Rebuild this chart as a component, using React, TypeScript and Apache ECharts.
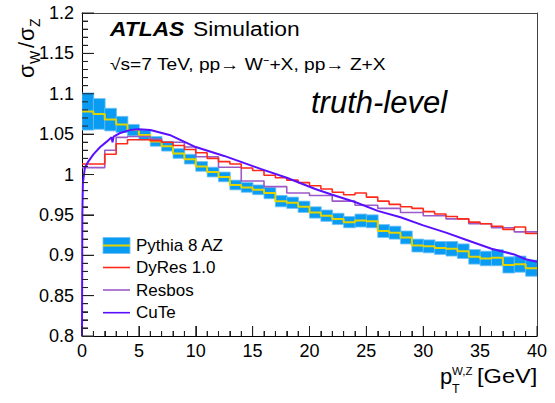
import React, { useEffect, useRef } from 'react';
import * as echarts from 'echarts';

// Bin edges (GeV)
const binLow = [0, 1, 2, 3, 4, 5, 6, 7, 8, 9, 10, 11, 12, 13, 14, 15, 16, 17, 18, 19,
  20, 21, 22, 23, 24, 25, 26, 27, 28, 29, 30, 31, 32, 33, 34, 35, 36, 37, 38, 39];
const binHigh = [1, 2, 3, 4, 5, 6, 7, 8, 9, 10, 11, 12, 13, 14, 15, 16, 17, 18, 19, 20,
  21, 22, 23, 24, 25, 26, 27, 28, 29, 30, 31, 32, 33, 34, 35, 36, 37, 38, 39, 40];

// Pythia 8 AZ (central value and uncertainty half-width)
const pythiaCenter = [1.078, 1.075, 1.068, 1.062, 1.055, 1.049, 1.041, 1.035, 1.026, 1.019,
  1.010, 1.003, 0.997, 0.987, 0.984, 0.981, 0.977, 0.967, 0.965, 0.960,
  0.953, 0.949, 0.945, 0.941, 0.943, 0.942, 0.930, 0.928, 0.922, 0.912,
  0.911, 0.909, 0.908, 0.905, 0.898, 0.896, 0.897, 0.888, 0.889, 0.884];
const pythiaErr = [0.023, 0.019, 0.014, 0.010, 0.007, 0.006, 0.006, 0.006, 0.006, 0.006,
  0.006, 0.006, 0.006, 0.006, 0.006, 0.006, 0.007, 0.007, 0.007, 0.007,
  0.007, 0.007, 0.007, 0.007, 0.008, 0.008, 0.008, 0.008, 0.008, 0.008,
  0.008, 0.008, 0.009, 0.009, 0.009, 0.009, 0.010, 0.010, 0.010, 0.010];

// DyRes 1.0
const dyres = [1.013, 1.013, 1.025, 1.038, 1.043, 1.043, 1.042, 1.040, 1.036, 1.031,
  1.027, 1.020, 1.016, 1.013, 1.008, 1.005, 0.999, 0.996, 0.993, 0.990,
  0.986, 0.982, 0.978, 0.975, 0.977, 0.972, 0.967, 0.963, 0.960, 0.958,
  0.954, 0.951, 0.948, 0.945, 0.941, 0.939, 0.936, 0.932, 0.935, 0.927];

// Resbos
const resbos = [1.0085, 1.0085, 1.030, 1.046, 1.047, 1.047, 1.044, 1.040, 1.040, 1.034,
  1.022, 1.022, 1.009, 1.009, 0.992, 0.992, 0.985, 0.985, 0.977, 0.977,
  0.974, 0.974, 0.967, 0.967, 0.962, 0.962, 0.958, 0.958, 0.953, 0.953,
  0.949, 0.949, 0.945, 0.945, 0.939, 0.939, 0.934, 0.934, 0.929, 0.929];

// CuTe (curve)
const cutePt = [0, 0.03, 0.08, 0.25, 0.55, 1.0, 1.6, 2.2, 2.6, 2.68, 2.78, 3.3, 4.2, 5.0, 6.0, 7.7,
  10, 12.5, 15.7, 18, 20.5, 22, 24, 26, 28, 30, 32, 34, 36, 38, 39, 40];
const cuteVal = [0.8, 0.95, 0.99, 1.008, 1.016, 1.025, 1.034, 1.041, 1.046, 1.040, 1.047, 1.051, 1.055, 1.056, 1.055, 1.049,
  1.034, 1.023, 1.007, 0.996, 0.982, 0.975, 0.966, 0.955, 0.947, 0.937, 0.928, 0.918, 0.908, 0.901, 0.895, 0.892];

const legendNames = ['Pythia 8 AZ', 'DyRes 1.0', 'Resbos', 'CuTe'];

// Axis ranges and tick steps
const X_MIN = 0, X_MAX = 40, X_MAJOR = 5, X_MINOR = 1;
const Y_MIN = 0.8, Y_MAX = 1.2, Y_MAJOR = 0.05, Y_MINOR = 0.01;

const FF = "'Liberation Sans', Arial, Helvetica, sans-serif";
const C_BAND = '#0a9cf2';
const C_YEL = '#e2d400';
const C_RED = '#ff2a1a';
const C_PUR = '#9b5ac8';
const C_CUTE = '#5a10ff';
const C_TICK = '#222';

function stepData(vals: number[]) {
  const d: number[][] = binLow.map((x, i) => [x, vals[i]]);
  d.push([binHigh[binHigh.length - 1], vals[vals.length - 1]]);
  return d;
}

export default function App() {
  const ref = useRef<HTMLDivElement>(null);
  useEffect(() => {
    const chart = echarts.init(ref.current as HTMLDivElement, null, { renderer: 'svg' });
    const bandData = binLow.map((x, i) => [x, binHigh[i], pythiaCenter[i] - pythiaErr[i], pythiaCenter[i] + pythiaErr[i]]);
    const cuteData = cutePt.map((x, i) => [x, cuteVal[i]]);

    // tick positions along the axes (minor every step, major every 5th)
    const nX = Math.round((X_MAX - X_MIN) / X_MINOR);
    const xTicks = Array.from({ length: nX + 1 }, (_, i) => [X_MIN + i * X_MINOR, Y_MIN, i % Math.round(X_MAJOR / X_MINOR) === 0 ? 1 : 0]);
    const nY = Math.round((Y_MAX - Y_MIN) / Y_MINOR);
    const yTicks = Array.from({ length: nY + 1 }, (_, i) => [X_MIN, +(Y_MIN + i * Y_MINOR).toFixed(3), i % Math.round(Y_MAJOR / Y_MINOR) === 0 ? 1 : 0]);

    const txt = (text: string, x: number, y: number, size: number, extra: any = {}, el: any = {}) => ({
      type: 'text', x, y, originX: 0, originY: 0, ...el,
      style: { text, fill: '#000', fontSize: size, fontFamily: FF, align: 'left', verticalAlign: 'middle', ...extra },
    });

    const legendY = [245.5, 267.5, 290, 312.7];
    const frameAxisX = {
      type: 'value', min: X_MIN, max: X_MAX, position: 'top',
      axisLine: { show: true, onZero: false, lineStyle: { color: '#444', width: 1 } },
      axisTick: { show: false }, axisLabel: { show: false }, splitLine: { show: false },
    };
    const frameAxisY = {
      type: 'value', min: Y_MIN, max: Y_MAX, position: 'right',
      axisLine: { show: true, onZero: false, lineStyle: { color: '#444', width: 1 } },
      axisTick: { show: false }, axisLabel: { show: false }, splitLine: { show: false },
    };

    chart.setOption({
      animation: false,
      backgroundColor: '#fff',
      grid: { left: 82, right: 18, top: 13, bottom: 67 },
      xAxis: [{
        type: 'value', min: X_MIN, max: X_MAX, interval: X_MAJOR, position: 'bottom',
        axisLine: { show: true, onZero: false, lineStyle: { color: '#000', width: 1 } },
        axisTick: { show: true, inside: true, length: 10, lineStyle: { color: C_TICK, width: 1 } },
        minorTick: { show: true, splitNumber: 5, length: 5, lineStyle: { color: C_TICK, width: 1 } },
        splitLine: { show: false },
        axisLabel: { fontSize: 18, color: '#000', fontFamily: FF, margin: 6 },
      }, frameAxisX],
      yAxis: [{
        type: 'value', min: Y_MIN, max: Y_MAX, interval: Y_MAJOR, position: 'left',
        axisLine: { show: true, onZero: false, lineStyle: { color: '#000', width: 1 } },
        axisTick: { show: true, inside: true, length: 12, lineStyle: { color: C_TICK, width: 1 } },
        minorTick: { show: true, splitNumber: 5, length: 6, lineStyle: { color: C_TICK, width: 1 } },
        splitLine: { show: false },
        axisLabel: {
          fontSize: 18, color: '#000', fontFamily: FF, margin: 8,
          formatter: (v: number) => String(parseFloat(v.toFixed(2))),
        },
      }, frameAxisY],
      series: [
        {
          type: 'custom', name: legendNames[0] + ' band', data: bandData,
          encode: { x: [0, 1], y: [2, 3] }, clip: true, z: 1,
          renderItem: (params: any, api: any) => {
            const a = api.coord([api.value(0), api.value(3)]);
            const b = api.coord([api.value(1), api.value(2)]);
            return {
              type: 'rect',
              shape: { x: a[0], y: a[1], width: b[0] - a[0] + 0.4, height: b[1] - a[1] },
              style: { fill: C_BAND, stroke: '#6cc0f6', lineWidth: 0.8 },
            };
          },
        },
        { type: 'line', name: legendNames[0], data: stepData(pythiaCenter), step: 'end', symbol: 'none', z: 3, lineStyle: { color: C_YEL, width: 2 } },
        { type: 'line', name: legendNames[2], data: stepData(resbos), step: 'end', symbol: 'none', z: 4, lineStyle: { color: C_PUR, width: 1.6 } },
        { type: 'line', name: legendNames[1], data: stepData(dyres), step: 'end', symbol: 'none', z: 5, lineStyle: { color: C_RED, width: 1.6 } },
        { type: 'line', name: legendNames[3], data: cuteData, symbol: 'none', z: 6, lineStyle: { color: C_CUTE, width: 2 } },
        // x-axis tick marks (inside), placed through the axis scale
        {
          type: 'custom', name: 'x ticks', data: xTicks, encode: { x: 0, y: 1 }, clip: false, silent: true, z: 8,
          renderItem: (params: any, api: any) => {
            const p = api.coord([api.value(0), api.value(1)]);
            const len = api.value(2) ? 10 : 5;
            return { type: 'line', shape: { x1: p[0], y1: p[1], x2: p[0], y2: p[1] - len }, style: { stroke: C_TICK, lineWidth: 1 } };
          },
        },
        // y-axis tick marks (inside)
        {
          type: 'custom', name: 'y ticks', data: yTicks, encode: { x: 0, y: 1 }, clip: false, silent: true, z: 8,
          renderItem: (params: any, api: any) => {
            const p = api.coord([api.value(0), api.value(1)]);
            const len = api.value(2) ? 12 : 6;
            return { type: 'line', shape: { x1: p[0], y1: p[1], x2: p[0] + len, y2: p[1] }, style: { stroke: C_TICK, lineWidth: 1 } };
          },
        },
      ],
      graphic: [
        // header texts
        {
          type: 'group', x: 110, y: 29.5, scaleX: 1.17,
          children: [
            txt('ATLAS', 0, 0, 19.5, { fontWeight: 'bold', fontStyle: 'italic' }),
            txt('Simulation', 71, 0, 19.5),
          ],
        },
        txt('\u221As=7 TeV, pp\u2192 W\u207B+X, pp\u2192 Z+X', 110, 64.7, 16, {}, { scaleX: 1.2 }),
        txt('truth-level', 311, 102, 31, { fontStyle: 'italic' }),
        // legend
        { type: 'rect', shape: { x: 103, y: 237.5, width: 27, height: 16 }, style: { fill: C_BAND, stroke: '#6cc0f6', lineWidth: 0.8 } },
        { type: 'line', shape: { x1: 103, y1: legendY[0], x2: 130, y2: legendY[0] }, style: { stroke: C_YEL, lineWidth: 2 } },
        { type: 'line', shape: { x1: 103, y1: legendY[1], x2: 130, y2: legendY[1] }, style: { stroke: C_RED, lineWidth: 1.6 } },
        { type: 'line', shape: { x1: 103, y1: legendY[2], x2: 130, y2: legendY[2] }, style: { stroke: C_PUR, lineWidth: 1.6 } },
        { type: 'line', shape: { x1: 103, y1: legendY[3], x2: 130, y2: legendY[3] }, style: { stroke: C_CUTE, lineWidth: 1.6 } },
        txt(legendNames[0], 136, legendY[0], 17),
        txt(legendNames[1], 136, legendY[1], 17),
        txt(legendNames[2], 136, legendY[2], 17),
        txt(legendNames[3], 136, legendY[3], 17),
        // y axis title
        {
          type: 'group', x: 26, y: 78, rotation: Math.PI / 2,
          children: [
            txt('\u03C3', 0, 0, 22),
            txt('W', 14, 9, 14),
            txt('/', 30, 0, 22),
            txt('\u03C3', 37, 0, 22),
            txt('Z', 51, 9, 14),
          ],
        },
        // x axis title
        txt('p', 440, 376.5, 22),
        txt('W,Z', 452, 370.5, 11.5),
        txt('T', 452, 388.5, 12.5),
        txt('[GeV]', 477, 376.5, 20, {}, { scaleX: 1.18 }),
      ],
    });
    return () => chart.dispose();
  }, []);
  return <div ref={ref} style={{ position: 'fixed', left: 0, top: 0, width: 555, height: 403, background: '#fff' }} />;
}
